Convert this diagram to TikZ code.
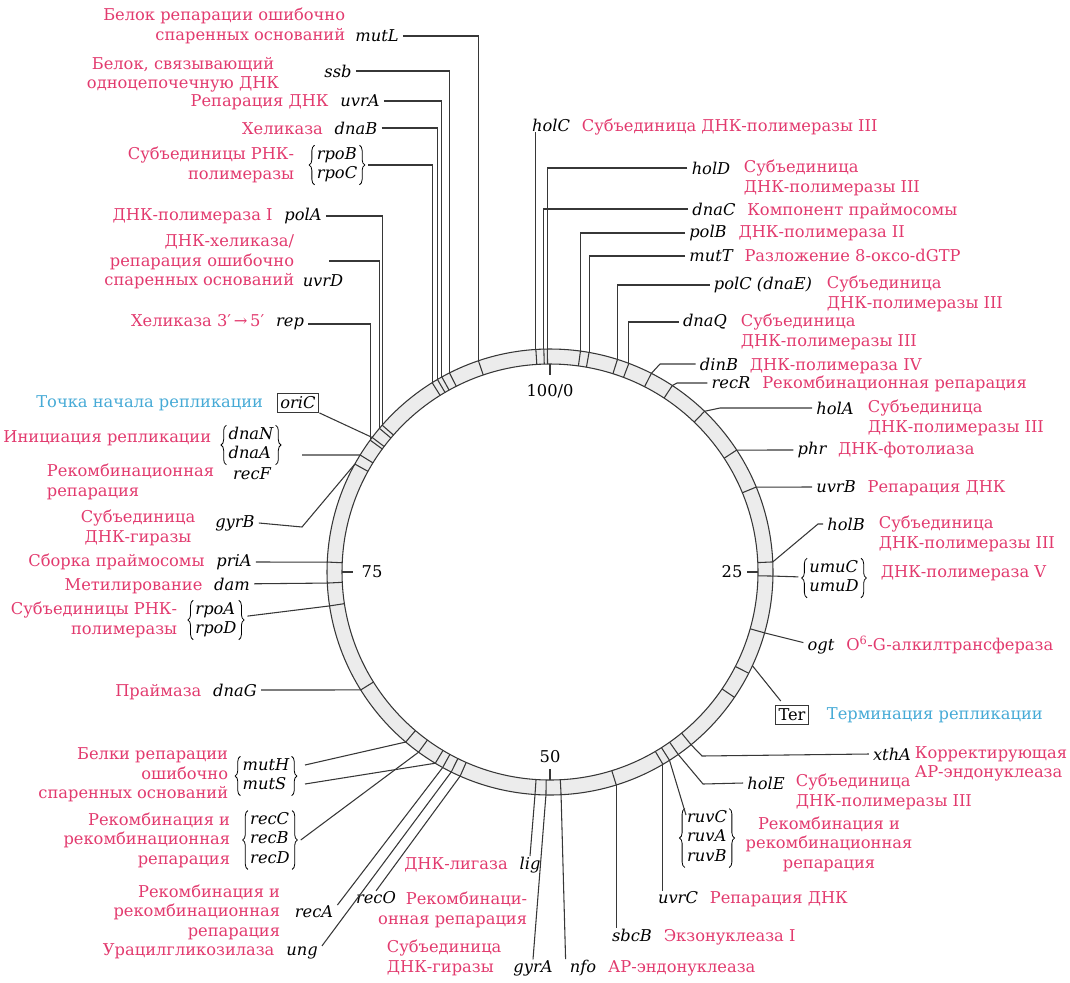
\documentclass[tikz,border=0pt]{standalone}
\usepackage{fontspec}
\setmainfont{DejaVu Serif}
\usetikzlibrary{positioning, decorations.pathreplacing}
\definecolor{descpink}{RGB}{226,58,110}
\definecolor{desccyan}{RGB}{70,170,214}
\definecolor{ringgray}{RGB}{236,236,236}
\definecolor{linegray}{RGB}{55,55,55}
\newcommand{\mapfont}{\fontsize{12.2}{14.6}\selectfont}
\newcommand{\genestack}[1]{\begin{tabular}{@{}l@{}}#1\end{tabular}}

\begin{document}
\begin{tikzpicture}[x=0.75pt,y=-0.75pt,
  gene/.style={font=\mapfont\itshape, inner xsep=3pt, inner ysep=0.5pt},
  genepile/.style={font=\mapfont\itshape, inner xsep=8pt, inner ysep=0pt},
  genebrace/.style={decorate, decoration={brace, amplitude=4pt}, draw=black, line width=0.6pt},
  genebox/.style={draw=linegray, line width=0.7pt, font=\mapfont, inner sep=2.5pt},
  desc/.style={font=\mapfont, text=descpink, inner sep=0.5pt},
  origin/.style={font=\mapfont, text=desccyan, inner sep=0.5pt},
  lead/.style={draw=linegray, line width=0.8pt},
  band/.style={draw=linegray, line width=0.8pt}]
\useasboundingbox (0,0) rectangle (1070,982);

% ring and gene positions (minutes)
\begin{scope}[shift={(550,572)}]
\fill[ringgray, even odd rule] (0,0) circle[radius=223] (0,0) circle[radius=208];
\draw[band] (0,0) circle[radius=223] (0,0) circle[radius=208];
\foreach \g/\m in {mutL/94.8, ssb/92.56, uvrA/91.94, dnaB/91.58, rpoBC/91.14, polA/86.44, uvrD/86.14,
  rep/85.07, oriC/85.31, dnaA/83.79, gyrB/83.04, priA/75.71, dam/74.21, rpoAD/72.57, dnaG/66.13,
  mutH/61.2, recBCD/60.03, mutS/58.6, recA/57.99, ung/57.3, recO/56.6, lig/51.07, gyrA/50.29,
  nfo/49.21, sbcB/45.2, uvrC/41.55, ruv/41.0, holE/40.25, xthA/39.1, ogt/29.4, umu/25.29,
  holB/24.28, uvrB/18.78, phr/15.79, holA/12.19, recR/9.24, dinB/7.51, dnaQ/5.75, polC/4.89,
  mutT/2.80, polB/2.18, holD/99.81, dnaC/99.56, holC/98.99} {
  \coordinate (c-\g) at ({3.6*\m-90}:223);
  \draw[band] ({3.6*\m-90}:208) -- (c-\g);
}
\foreach \m in {32.5,34.5}
  \draw[band] ({3.6*\m-90}:208) -- ({3.6*\m-90}:223);
\coordinate (c-Ter) at ({3.6*31.9-90}:223);
% scale
\foreach \m/\t/\r in {0/100\slash0/181, 25/25/182, 50/50/185, 75/75/178} {
  \draw[band] ({3.6*\m-90}:208) -- ({3.6*\m-90}:197);
  \node[font=\mapfont, inner sep=1pt] (l-\m) at ({3.6*\m-90}:\r) {\t};
}
\end{scope}

% left side
\node[gene] (n-mutL) at (377,36) {mutL};
\node[desc, align=right, anchor=east] (d-mutL) at (346,26) {Белок репарации ошибочно\\спаренных оснований};
\node[gene] (n-ssb) at (338,71) {ssb};
\node[desc, align=center] (d-ssb) at (183,75) {Белок, связывающий\\одноцепочечную ДНК};
\node[gene] (n-uvrA) at (360,101) {uvrA};
\node[desc, base left=5pt of n-uvrA] (d-uvrA) {Репарация ДНК};
\node[gene] (n-dnaB) at (356,128) {dnaB};
\node[desc, base left=5pt of n-dnaB] (d-dnaB) {Хеликаза};
\node[genepile] (b-rpoBC) at (337,165) {\genestack{rpoB\\rpoC}};
\node[desc, align=right, anchor=east] (d-rpoBC) at (295,165) {Субъединицы РНК-\\полимеразы};
\node[gene] (n-polA) at (303,216) {polA};
\node[desc, base left=5pt of n-polA] (d-polA) {ДНК-полимераза I};
\node[gene] (n-uvrD) at (323,281) {uvrD};
\node[desc, align=right, anchor=east] (d-uvrD) at (295,262) {ДНК-хеликаза/\\репарация ошибочно\\спаренных оснований};
\node[gene] (n-rep) at (290,324) {rep};
\node[desc, base left=5pt of n-rep] (d-rep) {Хеликаза 3′\,→\,5′};
\node[genebox, font=\mapfont\itshape] (n-oriC) at (298,403) {oriC};
\node[origin, anchor=east] (d-oriC) at (264,403) {Точка начала репликации};
\node[genepile] (b-dnaNA) at (251,445) {\genestack{dnaN\\dnaA}};
\node[desc, anchor=east] (d-dnaNA) at (212,438) {Инициация репликации};
\node[gene] (n-recF) at (252,474) {recF};
\node[desc, align=left, anchor=west] (d-recF) at (46,482) {Рекомбинационная\\репарация};
\node[gene] (n-gyrB) at (235,523) {gyrB};
\node[desc, align=center] (d-gyrB) at (138,528) {Субъединица\\ДНК-гиразы};
\node[gene] (n-priA) at (234,562) {priA};
\node[desc, base left=5pt of n-priA] (d-priA) {Сборка праймосомы};
\node[gene] (n-dam) at (232,584) {dam};
\node[desc, base left=5pt of n-dam] (d-dam) {Метилирование};
\node[genepile] (b-rpoAD) at (216,620) {\genestack{rpoA\\rpoD}};
\node[desc, align=right, anchor=east] (d-rpoAD) at (178,620) {Субъединицы РНК-\\полимеразы};
\node[gene] (n-dnaG) at (235,690) {dnaG};
\node[desc, base left=5pt of n-dnaG] (d-dnaG) {Праймаза};

% bottom left
\node[genepile] (b-mutHS) at (266,776) {\genestack{mutH\\mutS}};
\node[desc, align=right, anchor=east] (d-mutHS) at (229,775) {Белки репарации\\ошибочно\\спаренных оснований};
\node[genepile] (b-recCBD) at (270,840) {\genestack{recC\\recB\\recD}};
\node[desc, align=right, anchor=east] (d-recCBD) at (231,840) {Рекомбинация и\\рекомбинационная\\репарация};
\node[gene] (n-recA) at (314,912) {recA};
\node[desc, align=right, anchor=east] (d-recA) at (281,912) {Рекомбинация и\\рекомбинационная\\репарация};
\node[gene] (n-ung) at (302,953) {ung};
\node[desc, base left=5pt of n-ung] (d-ung) {Урацилгликозилаза};
\node[gene] (n-recO) at (376,898) {recO};
\node[desc, align=right, anchor=east] (d-recO) at (528,910) {Рекомбинаци-\\онная репарация};
\node[gene] (n-lig) at (530,865) {lig};
\node[desc, base left=5pt of n-lig] (d-lig) {ДНК-лигаза};
\node[gene] (n-gyrA) at (533,968) {gyrA};
\node[desc, align=left, anchor=west] (d-gyrA) at (386,958) {Субъединица\\ДНК-гиразы};
\node[gene] (n-nfo) at (583,968) {nfo};
\node[desc, base right=5pt of n-nfo] (d-nfo) {АР-эндонуклеаза};

% bottom right
\node[gene] (n-sbcB) at (632,935) {sbcB};
\node[desc, base right=5pt of n-sbcB] (d-sbcB) {Экзонуклеаза I};
\node[gene] (n-uvrC) at (678,898) {uvrC};
\node[desc, base right=5pt of n-uvrC] (d-uvrC) {Репарация ДНК};
\node[genepile] (b-ruv) at (707,838) {\genestack{ruvC\\ruvA\\ruvB}};
\node[desc, align=center] (d-ruv) at (829,844) {Рекомбинация и\\рекомбинационная\\репарация};
\node[gene] (n-holE) at (766,783) {holE};
\node[desc, align=left, anchor=west] (d-holE) at (795,792) {Субъединица\\ДНК-полимеразы III};
\node[gene] (n-xthA) at (892,754) {xthA};
\node[desc, align=left, anchor=west] (d-xthA) at (914,764) {Корректирующая\\АР-эндонуклеаза};
\node[genebox] (n-Ter) at (792,715) {Ter};
\node[origin, anchor=west] (d-Ter) at (826,715) {Терминация репликации};
\node[gene] (n-ogt) at (821,647) {ogt};
\node[desc, base right=5pt of n-ogt] (d-ogt) {O\textsuperscript{6}-G-алкилтрансфераза};

% right side
\node[genepile] (b-umu) at (834,578) {\genestack{umuC\\umuD}};
\node[desc, anchor=west] (d-umu) at (880,573) {ДНК-полимераза V};
\node[gene] (n-holB) at (846,524) {holB};
\node[desc, align=left, anchor=west] (d-holB) at (878,534) {Субъединица\\ДНК-полимеразы III};
\node[gene] (n-uvrB) at (836,487) {uvrB};
\node[desc, base right=5pt of n-uvrB] (d-uvrB) {Репарация ДНК};
\node[gene] (n-phr) at (812,450) {phr};
\node[desc, base right=5pt of n-phr] (d-phr) {ДНК-фотолиаза};
\node[gene] (n-holA) at (835,408) {holA};
\node[desc, align=left, anchor=west] (d-holA) at (867,418) {Субъединица\\ДНК-полимеразы III};
\node[gene] (n-recR) at (731,383) {recR};
\node[desc, base right=5pt of n-recR] (d-recR) {Рекомбинационная репарация};
\node[gene] (n-dinB) at (719,364) {dinB};
\node[desc, base right=5pt of n-dinB] (d-dinB) {ДНК-полимераза IV};
\node[gene] (n-dnaQ) at (705,322) {dnaQ};
\node[desc, align=left, anchor=west] (d-dnaQ) at (740,332) {Субъединица\\ДНК-полимеразы III};
\node[gene] (n-polC) at (763,285) {polC (dnaE)};
\node[desc, align=left, anchor=west] (d-polC) at (826,294) {Субъединица\\ДНК-полимеразы III};
\node[gene] (n-mutT) at (711,256) {mutT};
\node[desc, base right=5pt of n-mutT] (d-mutT) {Разложение 8-оксо-dGTP};
\node[gene] (n-polB) at (708,233) {polB};
\node[desc, base right=5pt of n-polB] (d-polB) {ДНК-полимераза II};
\node[gene] (n-dnaC) at (714,209) {dnaC};
\node[desc, base right=5pt of n-dnaC] (d-dnaC) {Компонент праймосомы};
\node[gene] (n-holD) at (711,168) {holD};
\node[desc, align=left, anchor=west] (d-holD) at (743,178) {Субъединица\\ДНК-полимеразы III};
\node[gene] (n-holC) at (551,125) {holC};
\node[desc, base right=5pt of n-holC] (d-holC) {Субъединица ДНК-полимеразы III};

% braces round the gene groups
\foreach \b in {rpoBC, dnaNA, rpoAD, mutHS, recCBD, ruv, umu} {
  \draw[genebrace] ([xshift=6.5pt]b-\b.south west) -- ([xshift=6.5pt]b-\b.north west);
  \draw[genebrace] ([xshift=-6.5pt]b-\b.north east) -- ([xshift=-6.5pt]b-\b.south east);
}

% leader bends
\coordinate (s-uvrD) at (329,261);
\coordinate (s-dnaA) at (302,455);
\coordinate (k-gyrB) at (302,527);
\coordinate (s-mutH) at (305,765);
\coordinate (s-mutS) at (305,784);
\coordinate (s-ruv) at (686,815);
\coordinate (k-holE) at (703,784);
\coordinate (k-xthA) at (702,756);
\coordinate (k-holB) at (818,524);
\coordinate (k-holA) at (720,408);
\coordinate (k-recR) at (677,383);
\coordinate (k-dinB) at (660,364);

% leaders
\draw[lead] (n-mutL) -| (c-mutL);
\draw[lead] (n-ssb) -| (c-ssb);
\draw[lead] (n-uvrA) -| (c-uvrA);
\draw[lead] (n-dnaB) -| (c-dnaB);
\draw[lead] (b-rpoBC) -| (c-rpoBC);
\draw[lead] (n-polA) -| (c-polA);
\draw[lead] (s-uvrD) -| (c-uvrD);
\draw[lead] (n-rep) -| (c-rep);
\draw[lead] (n-oriC) -- (c-oriC);
\draw[lead] (s-dnaA) -- (c-dnaA);
\draw[lead] (n-gyrB.east) -- (k-gyrB) -- (c-gyrB);
\draw[lead] (n-priA) -- (c-priA);
\draw[lead] (n-dam) -- (c-dam);
\draw[lead] (b-rpoAD) -- (c-rpoAD);
\draw[lead] (n-dnaG) -- (c-dnaG);
\draw[lead] (s-mutH) -- (c-mutH);
\draw[lead] (s-mutS) -- (c-mutS);
\draw[lead] (b-recCBD.east) -- (c-recBCD);
\draw[lead] (n-recA.north east) -- (c-recA);
\draw[lead] (n-ung.north east) -- (c-ung);
\draw[lead] (n-recO.north) -- (c-recO);
\draw[lead] (n-lig.north) -- (c-lig);
\draw[lead] (n-gyrA.north) -- (c-gyrA);
\draw[lead] (n-nfo.north west) -- (c-nfo);
\draw[lead] (n-sbcB.north -| c-sbcB) -- (c-sbcB);
\draw[lead] (n-uvrC.north -| c-uvrC) -- (c-uvrC);
\draw[lead] (s-ruv) -- (c-ruv);
\draw[lead] (n-holE.west) -- (k-holE) -- (c-holE);
\draw[lead] (n-xthA.west) -- (k-xthA) -- (c-xthA);
\draw[lead, shorten <=4pt] (n-Ter) -- (c-Ter);
\draw[lead] (n-ogt) -- (c-ogt);
\draw[lead] (b-umu) -- (c-umu);
\draw[lead] (n-holB.west) -- (k-holB) -- (c-holB);
\draw[lead] (n-uvrB) -- (c-uvrB);
\draw[lead] (n-phr) -- (c-phr);
\draw[lead] (n-holA.west) -- (k-holA) -- (c-holA);
\draw[lead] (n-recR.west) -- (k-recR) -- (c-recR);
\draw[lead] (n-dinB.west) -- (k-dinB) -- (c-dinB);
\draw[lead] (n-dnaQ) -| (c-dnaQ);
\draw[lead] (n-polC) -| (c-polC);
\draw[lead] (n-mutT) -| (c-mutT);
\draw[lead] (n-polB) -| (c-polB);
\draw[lead] (n-dnaC) -| (c-dnaC);
\draw[lead] (n-holD) -| (c-holD);
\draw[lead] (n-holC.south -| c-holC) -- (c-holC);

\end{tikzpicture}
\end{document}
